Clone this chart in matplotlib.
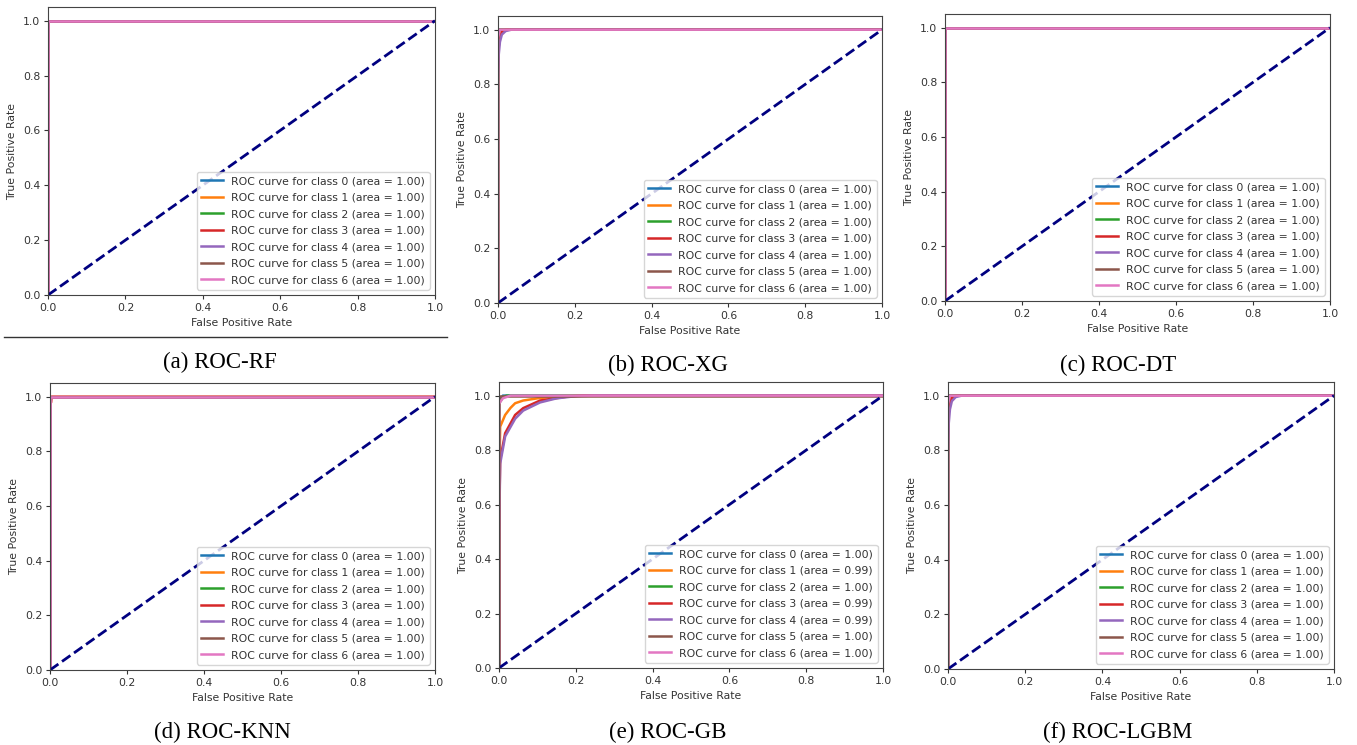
import matplotlib
matplotlib.use("Agg")
import matplotlib.pyplot as plt
from matplotlib.lines import Line2D

# ROC data (fpr / tpr per class, classes 0..6)
class_ids = [0, 1, 2, 3, 4, 5, 6]

perfect_fpr = [0.0, 0.0, 1.0]
perfect_tpr = [0.0, 1.0, 1.0]

# (a) RF
rf_fpr = [perfect_fpr] * 7
rf_tpr = [perfect_tpr] * 7
rf_auc = [1.00, 1.00, 1.00, 1.00, 1.00, 1.00, 1.00]

# (b) XG
xg_fpr = [
    [0.0, 0.0, 0.004, 1.0],
    [0.0, 0.0, 0.002, 0.005, 0.01, 1.0],
    [0.0, 0.0, 0.004, 1.0],
    [0.0, 0.0, 0.002, 0.006, 0.012, 0.02, 1.0],
    [0.0, 0.0, 0.002, 0.005, 0.01, 0.02, 0.035, 1.0],
    [0.0, 0.0, 0.004, 1.0],
    [0.0, 0.0, 0.005, 1.0],
]
xg_tpr = [
    [0.0, 0.97, 1.0, 1.0],
    [0.0, 0.90, 0.96, 0.99, 1.0, 1.0],
    [0.0, 0.98, 1.0, 1.0],
    [0.0, 0.85, 0.94, 0.98, 0.995, 1.0, 1.0],
    [0.0, 0.82, 0.91, 0.955, 0.982, 0.995, 1.0, 1.0],
    [0.0, 0.99, 1.0, 1.0],
    [0.0, 0.97, 1.0, 1.0],
]
xg_auc = [1.00, 1.00, 1.00, 1.00, 1.00, 1.00, 1.00]

# (c) DT
dt_fpr = [perfect_fpr] * 7
dt_tpr = [perfect_tpr] * 7
dt_auc = [1.00, 1.00, 1.00, 1.00, 1.00, 1.00, 1.00]

# (d) KNN
knn_fpr = [perfect_fpr, perfect_fpr, perfect_fpr,
           [0.0, 0.0, 0.003, 0.004, 1.0],
           perfect_fpr, perfect_fpr, perfect_fpr]
knn_tpr = [perfect_tpr, perfect_tpr, perfect_tpr,
           [0.0, 0.97, 0.98, 1.0, 1.0],
           perfect_tpr, perfect_tpr, perfect_tpr]
knn_auc = [1.00, 1.00, 1.00, 1.00, 1.00, 1.00, 1.00]

# (e) GB
gb_fpr = [
    [0.0, 0.0, 0.01, 1.0],
    [0.0, 0.0, 0.003, 0.016, 0.03, 0.042, 0.063, 0.10, 0.15, 0.2, 1.0],
    [0.0, 0.0, 0.01, 0.02, 1.0],
    [0.0, 0.0, 0.003, 0.016, 0.042, 0.063, 0.107, 0.176, 0.22, 1.0],
    [0.0, 0.0, 0.003, 0.016, 0.042, 0.063, 0.107, 0.15, 0.2, 0.25, 1.0],
    [0.0, 0.0, 1.0],
    [0.0, 0.0, 0.01, 0.03, 1.0],
]
gb_tpr = [
    [0.0, 0.98, 1.0, 1.0],
    [0.0, 0.60, 0.886, 0.929, 0.955, 0.972, 0.982, 0.99, 0.998, 1.0, 1.0],
    [0.0, 0.97, 0.995, 1.0, 1.0],
    [0.0, 0.50, 0.764, 0.862, 0.929, 0.954, 0.982, 0.996, 1.0, 1.0],
    [0.0, 0.45, 0.75, 0.85, 0.915, 0.945, 0.975, 0.99, 0.998, 1.0, 1.0],
    [0.0, 1.0, 1.0],
    [0.0, 0.97, 0.99, 1.0, 1.0],
]
gb_auc = [1.00, 0.99, 1.00, 0.99, 0.99, 1.00, 1.00]

# (f) LGBM
lgbm_fpr = [
    [0.0, 0.0, 0.004, 1.0],
    [0.0, 0.0, 0.002, 0.006, 0.01, 1.0],
    [0.0, 0.0, 0.004, 1.0],
    [0.0, 0.0, 0.002, 0.006, 0.012, 0.02, 1.0],
    [0.0, 0.0, 0.002, 0.005, 0.01, 0.02, 0.035, 1.0],
    [0.0, 0.0, 0.004, 1.0],
    [0.0, 0.0, 0.005, 1.0],
]
lgbm_tpr = [
    [0.0, 0.97, 1.0, 1.0],
    [0.0, 0.90, 0.97, 0.99, 1.0, 1.0],
    [0.0, 0.98, 1.0, 1.0],
    [0.0, 0.85, 0.94, 0.98, 0.995, 1.0, 1.0],
    [0.0, 0.80, 0.90, 0.95, 0.98, 0.995, 1.0, 1.0],
    [0.0, 0.99, 1.0, 1.0],
    [0.0, 0.97, 1.0, 1.0],
]
lgbm_auc = [1.00, 1.00, 1.00, 1.00, 1.00, 1.00, 1.00]

captions = ["(a) ROC-RF", "(b) ROC-XG", "(c) ROC-DT",
            "(d) ROC-KNN", "(e) ROC-GB", "(f) ROC-LGBM"]
all_fpr = [rf_fpr, xg_fpr, dt_fpr, knn_fpr, gb_fpr, lgbm_fpr]
all_tpr = [rf_tpr, xg_tpr, dt_tpr, knn_tpr, gb_tpr, lgbm_tpr]
all_auc = [rf_auc, xg_auc, dt_auc, knn_auc, gb_auc, lgbm_auc]

# axes boxes in pixels: left, top, right, bottom
boxes = [(48, 7, 435, 295), (498, 16, 882, 303), (945, 14, 1330, 301),
         (50, 383, 435, 670), (499, 382, 883, 668), (948, 382, 1334, 669)]
caption_pos = [(220, 362), (668, 365), (1118, 365),
               (222, 732), (668, 732), (1118, 732)]

W, H = 1357, 745
fs = 7.8
plt.rcParams['font.size'] = fs
plt.rcParams['text.color'] = '#333333'
plt.rcParams['axes.labelcolor'] = '#333333'
plt.rcParams['xtick.color'] = '#333333'
plt.rcParams['ytick.color'] = '#333333'
plt.rcParams['axes.edgecolor'] = '#444444'

fig = plt.figure(figsize=(W / 100, H / 100), dpi=100)

for i in range(6):
    l, t, r, b = boxes[i]
    ax = fig.add_axes([l / W, 1 - b / H, (r - l) / W, (b - t) / H])
    for k in class_ids:
        ax.plot(all_fpr[i][k], all_tpr[i][k], lw=1.8, color='C%d' % k,
                label='ROC curve for class %d (area = %.2f)' % (k, all_auc[i][k]))
    ax.plot([0, 1], [0, 1], color='navy', lw=2, linestyle='--')
    ax.set_xlim(0.0, 1.0)
    ax.set_ylim(0.0, 1.05)
    ax.set_xlabel('False Positive Rate', fontsize=fs)
    ax.set_ylabel('True Positive Rate', fontsize=fs)
    ax.tick_params(labelsize=fs, length=3, pad=2.5)
    ax.legend(loc='lower right', fontsize=fs, labelspacing=0.6)
    cx, cy = caption_pos[i]
    fig.text(cx / W, 1 - cy / H, captions[i], ha='center', va='center',
             fontsize=16.5, family='Liberation Serif', color='black')

# separator line under panel (a)
fig.add_artist(Line2D([4 / W, 447 / W], [1 - 337 / H, 1 - 337 / H],
                      transform=fig.transFigure, color='#333333', lw=1))

fig.savefig('out.png', dpi=100)
